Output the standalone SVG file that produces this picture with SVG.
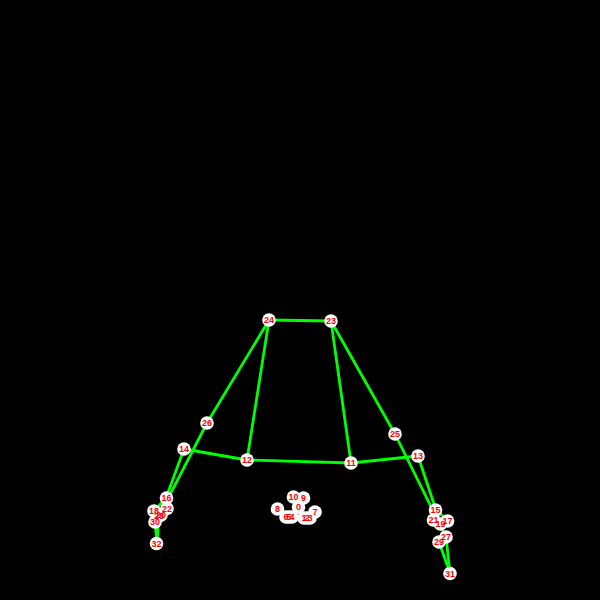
<svg xmlns="http://www.w3.org/2000/svg" width="600" height="600" viewBox="0 0 600 600">
<style>
#connectors line{stroke:#0f0;stroke-width:2.8;stroke-linecap:round}
circle{fill:#fff;r:6.8px}
text{fill:#f00;font:bold 9px "Liberation Sans",sans-serif;text-anchor:middle}
</style>
<rect width="600" height="600" fill="#000"/>
<g id="connectors">
<line x1="351" y1="463" x2="247" y2="460"/>
<line x1="351" y1="463" x2="418" y2="456"/>
<line x1="418" y1="456" x2="436" y2="510"/>
<line x1="436" y1="510" x2="448" y2="521"/>
<line x1="436" y1="510" x2="441" y2="524"/>
<line x1="436" y1="510" x2="434" y2="520"/>
<line x1="448" y1="521" x2="441" y2="524"/>
<line x1="247" y1="460" x2="184" y2="449"/>
<line x1="184" y1="449" x2="166" y2="498"/>
<line x1="166" y1="498" x2="154" y2="511"/>
<line x1="166" y1="498" x2="162" y2="515"/>
<line x1="166" y1="498" x2="167" y2="508"/>
<line x1="154" y1="511" x2="162" y2="515"/>
<line x1="351" y1="463" x2="331" y2="321"/>
<line x1="247" y1="460" x2="269" y2="320"/>
<line x1="331" y1="321" x2="269" y2="320"/>
<line x1="331" y1="321" x2="395" y2="434"/>
<line x1="269" y1="320" x2="207" y2="423"/>
<line x1="395" y1="434" x2="446" y2="537"/>
<line x1="207" y1="423" x2="159" y2="516"/>
<line x1="446" y1="537" x2="439" y2="542"/>
<line x1="159" y1="516" x2="155" y2="522"/>
<line x1="439" y1="542" x2="450" y2="573"/>
<line x1="155" y1="522" x2="157" y2="543"/>
<line x1="446" y1="537" x2="450" y2="573"/>
<line x1="159" y1="516" x2="157" y2="543"/>
</g>
<g id="discs">
<circle cx="298.500" cy="507"/><circle cx="304" cy="518"/><circle cx="307" cy="518"/><circle cx="310" cy="518"/>
<circle cx="292" cy="517"/><circle cx="289" cy="517"/><circle cx="286" cy="517"/><circle cx="315" cy="512"/>
<circle cx="277.500" cy="509"/><circle cx="303.500" cy="498"/><circle cx="293.500" cy="497"/>
<circle cx="435.500" cy="510"/><circle cx="447.500" cy="521"/><circle cx="440.500" cy="524"/><circle cx="433.500" cy="520"/>
<circle cx="446" cy="537"/><circle cx="439" cy="542"/>
<circle cx="166.500" cy="498"/><circle cx="154" cy="511"/><circle cx="161" cy="515"/><circle cx="167" cy="508.500"/>
<circle cx="159" cy="516"/><circle cx="155" cy="522"/>
</g>
<g id="n0"><text x="298.500" y="510">0</text></g>
<g id="n1"><text x="304" y="521">1</text></g>
<g id="n2"><text x="307" y="521">2</text></g>
<g id="n3"><text x="310" y="521">3</text></g>
<g id="n4"><text x="292" y="520">4</text></g>
<g id="n5"><text x="289" y="520">5</text></g>
<g id="n6"><text x="286" y="520">6</text></g>
<g id="n7"><text x="315" y="515">7</text></g>
<g id="n8"><text x="277.500" y="512">8</text></g>
<g id="n9"><text x="303.500" y="501">9</text></g>
<g id="n10"><text x="293.500" y="500">10</text></g>
<g id="n11"><circle cx="351" cy="463"/><text x="351" y="466">11</text></g>
<g id="n12"><circle cx="247" cy="460"/><text x="247" y="463">12</text></g>
<g id="n13"><circle cx="418" cy="456"/><text x="418" y="459">13</text></g>
<g id="n14"><circle cx="184" cy="449"/><text x="184" y="452">14</text></g>
<g id="n15"><text x="435.500" y="513">15</text></g>
<g id="n16"><text x="166.500" y="501">16</text></g>
<g id="n17"><text x="447.500" y="524">17</text></g>
<g id="n18"><text x="154" y="514">18</text></g>
<g id="n19"><text x="440.500" y="527">19</text></g>
<g id="n20"><text x="161" y="518">20</text></g>
<g id="n21"><text x="433.500" y="523">21</text></g>
<g id="n22"><text x="167" y="511.500">22</text></g>
<g id="n23"><circle cx="331" cy="321"/><text x="331" y="324">23</text></g>
<g id="n24"><circle cx="269" cy="320"/><text x="269" y="323">24</text></g>
<g id="n25"><circle cx="395" cy="434"/><text x="395" y="437">25</text></g>
<g id="n26"><circle cx="207" cy="423"/><text x="207" y="426">26</text></g>
<g id="n27"><text x="446" y="540">27</text></g>
<g id="n28"><text x="159" y="519">28</text></g>
<g id="n29"><text x="439" y="545">29</text></g>
<g id="n30"><text x="155" y="525">30</text></g>
<g id="n31"><circle cx="450" cy="573.500"/><text x="450" y="576.500">31</text></g>
<g id="n32"><circle cx="156.500" cy="543.500"/><text x="156.500" y="546.500">32</text></g>
</svg>
